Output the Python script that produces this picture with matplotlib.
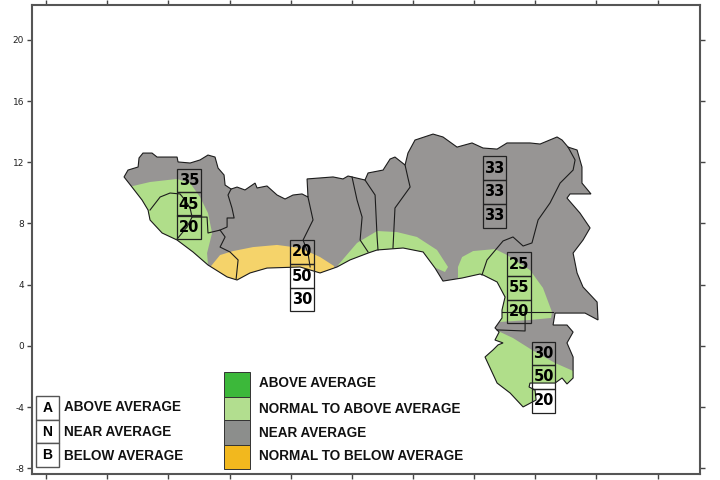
#!/usr/bin/env python3
# -*- coding: utf-8 -*-
import numpy as np
import matplotlib
matplotlib.use('Agg')
import matplotlib.pyplot as plt
from matplotlib.patches import Polygon, Rectangle

plt.rcParams['axes.unicode_minus'] = False

# outline of the whole region, lon/lat
outline = [(-14.90,11.04),(-14.64,11.49),(-13.98,11.69),(-13.92,12.28),(-13.66,12.60),(-13.07,12.60),
    (-12.74,12.34),(-11.43,12.34),(-11.37,12.02),(-10.58,11.95),(-9.93,12.15),(-9.41,12.47),(-8.95,12.34),
    (-8.75,11.62),(-8.36,11.17),(-8.29,10.51),(-7.90,10.25),(-7.51,10.38),(-6.99,10.19),(-6.33,10.64),
    (-6.20,10.32),(-5.55,10.45),(-4.89,9.86),(-4.37,9.60),(-3.85,9.86),(-3.26,9.93),(-2.87,9.73),
    (-2.93,10.91),(-1.23,11.04),(-0.58,10.91),(-0.25,11.10),(0.01,11.04),(0.86,10.84),(1.06,11.30),
    (2.04,11.49),(2.50,12.21),(2.82,12.34),(3.48,11.82),(3.67,12.60),(4.13,13.45),(5.31,13.84),(5.96,13.65),
    (6.88,12.99),(7.86,13.26),(8.58,12.93),(9.50,12.86),(10.15,13.26),(11.65,13.26),(12.31,13.19),
    (13.42,13.65),(13.75,13.45),(14.14,12.99),(14.73,12.80),(15.05,11.69),(15.05,10.64),(15.64,9.93),
    (14.27,9.93),(14.07,9.66),(14.92,8.68),(15.58,7.71),(15.12,6.92),(14.47,6.07),(14.73,4.77),(15.12,3.85),
    (16.04,2.87),(16.10,1.70),(15.25,2.15),(13.29,2.15),(13.16,1.37),(14.07,1.37),(14.47,0.91),(14.07,0.20),
    (14.47,-0.72),(14.47,-2.09),(14.07,-2.48),(13.75,-2.09),(13.29,-2.42),(12.50,-2.42),(11.65,-2.42),
    (11.59,-2.68),(11.98,-2.87),(12.05,-3.53),(11.20,-3.98),(10.35,-3.07),(9.50,-2.42),(8.71,-0.72),
    (9.23,-0.26),(9.56,0.07),(9.89,0.20),(9.36,0.39),(9.63,0.91),(9.36,1.18),(9.82,1.83),(9.82,2.35),
    (10.02,3.20),(9.50,4.18),(8.58,4.64),(8.38,4.70),(7.21,4.44),(5.96,4.24),(5.44,5.09),(4.66,6.14),
    (3.35,6.40),(1.65,6.27),(1.06,6.07),(-0.12,5.62),(-0.97,5.16),(-2.08,4.77),(-3.39,5.16),(-5.55,5.09),
    (-6.66,4.77),(-7.51,4.31),(-8.16,4.51),(-9.41,5.29),(-10.39,6.14),(-11.43,6.92),(-12.41,7.38),
    (-13.20,8.23),(-13.33,8.88),(-13.72,9.53),(-14.38,10.38)]

# forecast zones, they run out over the sea and get clipped to the outline
green_guinea = [(-14.31,10.45),(-13.20,10.71),(-11.43,10.91),(-10.58,10.64),(-9.93,9.73),(-9.41,8.68),
    (-9.14,7.38),(-9.47,6.07),(-9.41,5.29),(-10.58,4.64),(-15.81,7.57),(-15.81,10.45)]
green_ghana = [(-0.90,5.29),(0.34,6.73),(1.65,7.51),(2.96,7.44),(4.26,7.12),(5.57,6.27),(6.29,5.16),
    (6.09,4.83),(5.51,5.09),(4.46,4.83),(-0.77,3.98)]
green_cameroon = [(6.94,5.16),(7.21,5.81),(7.93,6.20),(9.36,6.33),(10.15,5.94),(11.65,4.96),(12.50,3.79),
    (13.09,2.22),(13.03,1.83),(11.65,1.70),(9.69,1.57),(8.38,1.57),(6.94,3.98)]
green_gabon = [(9.56,0.98),(10.54,0.52),(11.78,-0.26),(13.29,-1.11),(14.34,-1.57),(15.25,-2.09),(15.25,-3.53),
    (11.65,-4.83),(7.73,-2.22),(8.38,0.72)]
yellow_coast = [(-9.21,5.22),(-8.62,5.94),(-7.77,6.20),(-6.46,6.46),(-4.89,6.60),(-3.39,6.40),(-2.08,5.81),
    (-1.16,5.22),(-1.16,3.33),(-9.21,3.33)]

# country borders inside the outline
borders = [
    [(-13.20,8.88),(-12.54,9.73),(-11.89,9.99),(-11.24,9.93),(-10.91,9.53),(-10.58,9.01),(-10.45,8.42),(-10.78,7.77),(-11.43,6.99)],
    [(-10.45,8.42),(-9.47,8.42),(-9.41,7.38),(-8.62,7.57),(-8.29,7.12),(-8.62,6.46),(-7.97,6.14),(-7.44,5.62),(-7.57,4.38)],
    [(-7.90,10.25),(-8.10,9.86),(-7.84,9.01),(-7.70,8.36),(-8.16,8.36),(-8.16,7.77),(-8.62,7.57)],
    [(-2.87,9.73),(-2.54,8.23),(-3.19,6.92),(-2.87,6.07),(-2.73,5.16)],
    [(0.01,11.04),(0.34,9.53),(0.67,8.42),(0.54,6.92),(1.06,6.14)],
    [(0.86,10.84),(1.52,9.86),(1.65,7.12),(1.71,6.27)],
    [(3.48,11.82),(3.67,10.97),(3.81,10.38),(2.82,9.01),(2.69,6.40)],
    [(14.14,12.99),(14.60,12.15),(14.47,11.49),(13.62,10.64),(12.96,9.34),(12.18,8.23),(11.78,6.73),(11.20,6.53),
     (10.54,7.12),(9.89,6.86),(8.84,5.62),(8.51,4.64)],
    [(9.82,2.22),(13.16,2.22)],
    [(11.33,2.22),(11.33,0.98),(9.50,1.05)],
]

# probability boxes: centre lon, centre lats, values
box_lon = [-10.65, -3.26, 9.33, 10.93, 12.54]
box_lat = [[10.81, 9.27, 7.77], [6.14, 4.57, 3.04], [11.62, 10.06, 8.49], [5.35, 3.79, 2.25], [-0.49, -2.02, -3.59]]
box_val = [[35, 45, 20], [20, 50, 30], [33, 33, 33], [25, 55, 20], [30, 50, 20]]

key_letters = ['A', 'N', 'B']
key_labels = ['ABOVE AVERAGE', 'NEAR AVERAGE', 'BELOW AVERAGE']
zone_labels = ['ABOVE AVERAGE', 'NORMAL TO ABOVE AVERAGE', 'NEAR AVERAGE', 'NORMAL TO BELOW AVERAGE']
zone_colors = ['#3cb83a', '#b2de8f', '#8c8e8c', '#f2b81e']

y_ticks = [-8, -4, 0, 4, 8, 12, 16, 20]
x_ticks = [-20, -16, -12, -8, -4, 0, 4, 8, 12, 16, 20]

W, H = 720, 480
fig = plt.figure(figsize=(7.2, 4.8), dpi=100)
ax = fig.add_axes([32/W, 1-474/H, (700-32)/W, (474-5)/H])
ax.set_xlim(-20.92, 22.77)
ax.set_ylim(-8.36, 22.27)

land = Polygon(outline, closed=True, fc='#979594', ec='none', zorder=1)
ax.add_patch(land)
for zone, col in [(green_guinea, '#b0de8a'), (green_ghana, '#b0de8a'), (green_cameroon, '#b0de8a'),
                  (green_gabon, '#b0de8a'), (yellow_coast, '#f5d36a')]:
    p = Polygon(zone, closed=True, fc=col, ec='none', zorder=2)
    ax.add_patch(p)
    p.set_clip_path(land)
ax.add_patch(Polygon(outline, closed=True, fc='none', ec='#1c1c1c', lw=0.8, zorder=3))
for b in borders:
    b = np.array(b)
    ax.plot(b[:,0], b[:,1], color='#1c1c1c', lw=0.8, zorder=3)

cell_w, cell_h = 1.55, 1.55
for lon, lats, vals in zip(box_lon, box_lat, box_val):
    for lat, v in zip(lats, vals):
        ax.add_patch(Rectangle((lon-cell_w/2, lat-cell_h/2), cell_w, cell_h, fc='none', ec='#222222', lw=0.9, zorder=4))
        ax.text(lon, lat, str(v), ha='center', va='center', fontsize=10.5, fontweight='bold', color='black', zorder=5)

for s in ax.spines.values():
    s.set_linewidth(1.5)
    s.set_color('#555555')
ax.set_yticks(y_ticks)
ax.set_xticks(x_ticks)
ax.set_xticklabels([])
ax.tick_params(axis='both', top=True, right=True, length=3.6, width=1, color='#444444', direction='out')
ax.tick_params(axis='y', labelsize=6.5, labelcolor='#222222', pad=2)


# legend is placed in picture pixels
def fx(x):
    return x / W


def fy(y):
    return 1 - y / H


key_y = [396, 420, 443, 467]
for i, let in enumerate(key_letters):
    fig.add_artist(Rectangle((fx(36), fy(key_y[i+1])), 23/W, (key_y[i+1]-key_y[i])/H, fc='white', ec='#555555', lw=1,
                             transform=fig.transFigure))
    fig.text(fx(47.5), fy((key_y[i]+key_y[i+1])/2), let, ha='center', va='center', fontsize=10, fontweight='bold',
             family='Liberation Sans')
for lab, y in zip(key_labels, [407, 432, 456]):
    fig.text(fx(64), fy(y), lab, ha='left', va='center', fontsize=9.75, fontweight='bold', color='#111111',
             family='Liberation Sans')

zone_y = [372, 397, 420, 445, 469]
for i, col in enumerate(zone_colors):
    fig.add_artist(Rectangle((fx(224), fy(zone_y[i+1])), 26/W, (zone_y[i+1]-zone_y[i])/H, fc=col, ec='#333333', lw=0.7,
                             transform=fig.transFigure))
for lab, y in zip(zone_labels, [383, 409, 433, 456]):
    fig.text(fx(259), fy(y), lab, ha='left', va='center', fontsize=9.75, fontweight='bold', color='#111111',
             family='Liberation Sans')

plt.savefig('out.png', dpi=100)
